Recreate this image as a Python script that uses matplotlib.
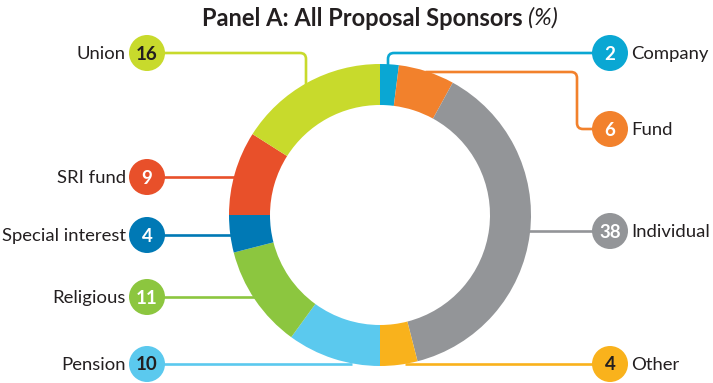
import numpy as np
import matplotlib.pyplot as plt
from matplotlib.patches import Circle
from matplotlib.path import Path
from matplotlib.patches import PathPatch

plt.rcParams['font.family'] = ['Lato', 'DejaVu Sans']

# data, clockwise from the top
sponsors = ["Company", "Fund", "Individual", "Other", "Pension",
            "Religious", "Special interest", "SRI fund", "Union"]
shares = [2, 6, 38, 4, 10, 11, 4, 9, 16]
colors = ["#0aa7d3", "#f2812c", "#939598", "#f9b21c", "#5bc9ee",
          "#8cc63f", "#0079b5", "#e8502a", "#c8da2c"]
dark_text = ["Other", "Pension", "Union"]

W, H = 713, 383
cx, cy = 380, H - 215   # ring centre (data coords, y up)
R, ring_w = 151, 41

fig = plt.figure(figsize=(W / 100, H / 100), dpi=100)
ax = fig.add_axes([0, 0, 1, 1])

ax.pie(shares, colors=colors, startangle=90, counterclock=False,
       radius=R, center=(cx, cy), frame=False,
       wedgeprops=dict(width=ring_w, linewidth=0))
for w in ax.patches:
    w.set_zorder(3)


def ring_x(py, side):
    dy = cy - (H - py)
    return cx + side * np.sqrt(R ** 2 - dy ** 2)


def ring_y(px):
    dx = px - cx
    return H - (cy + np.sqrt(R ** 2 - dx ** 2))


# circle positions (pixel coords, y down) and connector routes
bubble = {
    "Company": (610, 53), "Fund": (610, 129), "Individual": (610, 231),
    "Other": (610, 364), "Pension": (147, 364), "Religious": (147, 297),
    "Special interest": (147, 235), "SRI fund": (147, 177), "Union": (147, 53),
}
routes = {
    "Company": [(610, 53), (388, 53), (388, ring_y(388) + 3)],
    "Fund": [(ring_x(72, 1) - 3, 72), (577, 72), (577, 129), (610, 129)],
    "Individual": [(ring_x(231, 1) - 3, 231), (610, 231)],
    "Other": [(405, 364), (610, 364)],
    "Pension": [(147, 364), (352, 364)],
    "Religious": [(147, 297), (ring_x(297, -1) + 3, 297)],
    "Special interest": [(147, 235), (ring_x(235, -1) + 3, 235)],
    "SRI fund": [(147, 177), (ring_x(177, -1) + 3, 177)],
    "Union": [(147, 53), (306, 53), (306, ring_y(306) + 3)],
}


def rounded_path(pts, r=6):
    pts = [np.array([x, H - y], float) for x, y in pts]
    verts, codes = [pts[0]], [Path.MOVETO]
    for i in range(1, len(pts) - 1):
        a, b, c = pts[i - 1], pts[i], pts[i + 1]
        u1 = (a - b) / np.linalg.norm(a - b)
        u2 = (c - b) / np.linalg.norm(c - b)
        verts += [b + u1 * r, b, b + u2 * r]
        codes += [Path.LINETO, Path.CURVE3, Path.CURVE3]
    verts.append(pts[-1])
    codes.append(Path.LINETO)
    return Path(verts, codes)


for name, col in zip(sponsors, colors):
    ax.add_patch(PathPatch(rounded_path(routes[name]), fill=False,
                           edgecolor=col, lw=1.9, zorder=2))
    bx, by = bubble[name]
    by = H - by
    ax.add_patch(Circle((bx, by), 18, facecolor=col, edgecolor="none", zorder=4))
    val = shares[sponsors.index(name)]
    tc = "#231f20" if name in dark_text else "white"
    ax.text(bx, by - 1, str(val), ha="center", va="center", fontsize=13.5,
            fontweight="bold", color=tc, zorder=5)
    if bx < cx:
        ax.text(bx - 21, by - 1, name, ha="right", va="center", fontsize=13.3,
                color="#231f20")
    else:
        ax.text(bx + 21, by - 1, name, ha="left", va="center", fontsize=13.3,
                color="#231f20")

ax.text(528, H - 18, "Panel A: All Proposal Sponsors ", ha="right", va="center",
        fontsize=17, fontweight="bold", color="#231f20")
ax.text(528, H - 18, "(%)", ha="left", va="center", fontsize=17,
        style="italic", color="#231f20")

ax.set_xlim(0, W)
ax.set_ylim(0, H)
ax.set_aspect("equal")
ax.set_axis_off()
fig.savefig("out.png", dpi=100)
